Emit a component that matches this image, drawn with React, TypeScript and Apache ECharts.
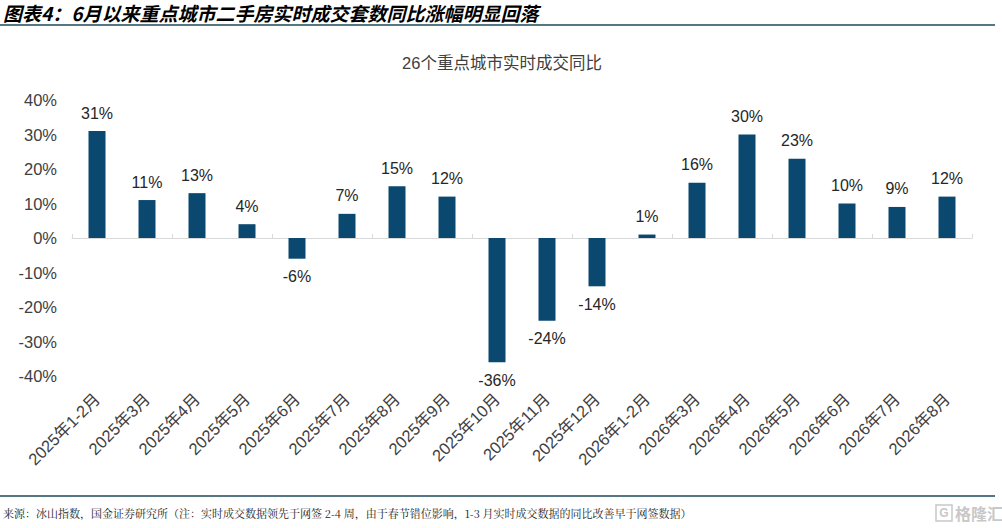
import React, { useEffect, useRef } from "react";
import * as echarts from "echarts";

const categories = [
  "2025年1-2月", "2025年3月", "2025年4月", "2025年5月", "2025年6月", "2025年7月",
  "2025年8月", "2025年9月", "2025年10月", "2025年11月", "2025年12月", "2026年1-2月",
  "2026年3月", "2026年4月", "2026年5月", "2026年6月", "2026年7月", "2026年8月",
];
const yoyValues = [31, 11, 13, 4, -6, 7, 15, 12, -36, -24, -14, 1, 16, 30, 23, 10, 9, 12];
const yTicks = [-40, -30, -20, -10, 0, 10, 20, 30, 40];

const headerText = "图表4：6月以来重点城市二手房实时成交套数同比涨幅明显回落";
const chartTitle = "26个重点城市实时成交同比";
const sourceText =
  "来源：冰山指数，国金证券研究所（注：实时成交数据领先于网签 2-4 周，由于春节错位影响，1-3 月实时成交数据的同比改善早于网签数据）";

const SANS = "'Liberation Sans', Arial, 'Noto Sans CJK SC', sans-serif";
const BAR = "#0b4870";
const TXT = "#404040";

export default function App() {
  const ref = useRef<HTMLDivElement>(null);
  useEffect(() => {
    document.body.style.margin = "0";
    const chart = echarts.init(ref.current!, null, { renderer: "svg" });
    chart.setOption({
      animation: false,
      backgroundColor: "#ffffff",
      title: {
        text: chartTitle,
        left: 497,
        textAlign: "center",
        top: 50,
        textStyle: { fontFamily: SANS, fontSize: 16.5, fontWeight: "normal", color: TXT },
      },
      grid: { left: 72, right: 30, top: 100, bottom: 152, containLabel: false },
      yAxis: {
        type: "value",
        min: yTicks[0],
        max: yTicks[yTicks.length - 1],
        interval: 10,
        splitLine: { show: false },
        axisLine: { show: false },
        axisTick: { show: false },
        axisLabel: {
          formatter: "{value}%",
          fontFamily: SANS,
          fontSize: 16.5,
          color: TXT,
          margin: 15,
        },
      },
      xAxis: [
        {
          type: "category",
          data: categories,
          axisLine: { onZero: true, lineStyle: { color: "#d9d9d9", width: 1 } },
          axisTick: { show: true, inside: true, length: 4, lineStyle: { color: "#d9d9d9" } },
          axisLabel: { show: false },
        },
        {
          type: "category",
          data: categories,
          position: "bottom",
          axisLine: { show: false, onZero: false },
          axisTick: { show: false },
          axisLabel: {
            interval: 0,
            rotate: 45,
            fontFamily: SANS,
            fontSize: 16.5,
            color: TXT,
            margin: 20,
          },
        },
      ],
      series: [
        {
          type: "bar",
          xAxisIndex: 0,
          data: yoyValues.map((v) => ({
            value: v,
            label: { position: v >= 0 ? "top" : "bottom" },
          })),
          barWidth: 17,
          itemStyle: { color: BAR },
          label: {
            show: true,
            formatter: "{c}%",
            fontFamily: SANS,
            fontSize: 16,
            color: "#262626",
            distance: 10,
          },
        },
      ],
      graphic: [
        {
          type: "text",
          x: 3,
          y: 12,
          style: {
            text: headerText,
            font: "italic bold 19px 'Noto Sans CJK SC', sans-serif",
            fill: "#000",
            verticalAlign: "middle",
          },
        },
        {
          type: "line",
          shape: { x1: 0, y1: 25, x2: 995, y2: 25 },
          style: { stroke: "#1d4a5a", lineWidth: 1.5 },
        },
        {
          type: "line",
          shape: { x1: 0, y1: 496, x2: 995, y2: 496 },
          style: { stroke: "#1d4a5a", lineWidth: 1.5 },
        },
        {
          type: "text",
          x: 3,
          y: 513,
          style: {
            text: sourceText,
            font: "11px 'Noto Serif CJK SC', 'Noto Sans CJK SC', serif",
            fill: "#222",
            verticalAlign: "middle",
          },
        },
        {
          type: "rect",
          shape: { x: 936, y: 505, width: 16, height: 16 },
          style: { fill: "none", stroke: "#c8c8c8", lineWidth: 1.5 },
        },
        {
          type: "text",
          x: 944,
          y: 513,
          style: {
            text: "G",
            font: "bold 12px 'Liberation Sans', sans-serif",
            fill: "#c8c8c8",
            align: "center",
            verticalAlign: "middle",
          },
        },
        {
          type: "text",
          x: 955,
          y: 513,
          style: {
            text: "格隆汇",
            font: "bold 16px 'Noto Sans CJK SC', sans-serif",
            fill: "#c8c8c8",
            verticalAlign: "middle",
          },
        },
      ],
    });
    return () => chart.dispose();
  }, []);
  return (
    <div
      ref={ref}
      style={{ position: "fixed", left: 0, top: 0, width: 1002, height: 528 }}
    />
  );
}
